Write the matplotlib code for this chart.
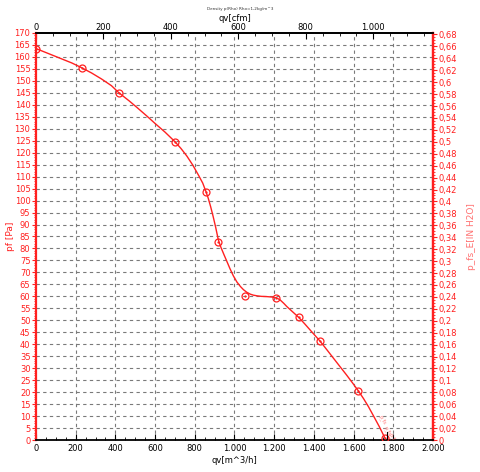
import matplotlib
matplotlib.use("Agg")
import matplotlib.pyplot as plt
from matplotlib.ticker import MultipleLocator, FuncFormatter, FixedLocator

# ---- data ----
marker_flow = [0, 230, 418, 700, 855, 918, 1053, 1211, 1325, 1431, 1624, 1758]
marker_pressure = [163.5, 155.5, 145.0, 124.6, 103.7, 82.8, 60.2, 59.4, 51.5, 41.4, 20.5, 0.8]

curve_flow = [0, 60, 120, 180, 230, 280, 330, 380, 418, 470, 510, 560, 600, 650, 700,
              730, 760, 790, 820, 840, 855, 868, 880, 892, 905, 918, 930, 945, 960, 977,
              994, 1012, 1030, 1045, 1062, 1080, 1095, 1115, 1135, 1162, 1190, 1211, 1230,
              1248, 1263, 1280, 1300, 1325, 1355, 1390, 1431, 1470, 1500, 1532, 1565, 1595,
              1624, 1650, 1675, 1700, 1730, 1758]
curve_pressure = [163.5, 161.5, 159.5, 157.5, 155.5, 153.3, 150.8, 148.0, 145.0, 141.6, 138.8,
                  135.2, 132.2, 128.6, 124.6, 121.8, 118.6, 114.8, 110.4, 107.3, 104.0, 100.9,
                  97.4, 93.5, 88.9, 83.8, 80.8, 77.8, 74.9, 71.6, 68.6, 66.0, 64.1, 62.8, 61.7,
                  60.9, 60.5, 60.2, 60.0, 59.9, 59.7, 59.4, 58.5, 57.1, 55.8, 54.5, 53.0, 51.1,
                  48.4, 45.1, 41.3, 37.2, 34.0, 30.6, 27.1, 23.8, 20.5, 17.3, 13.9, 10.1, 5.5,
                  0.8]

bottom_ticks = [0, 200, 400, 600, 800, 1000, 1200, 1400, 1600, 1800, 2000]
top_ticks_cfm = [0, 200, 400, 600, 800, 1000]
left_ticks = list(range(0, 171, 5))
right_ticks = [round(0.02 * i, 2) for i in range(35)]

M3H_PER_CFM = 1.699
PA_PER_INH2O = 249.089

RED = "#ff2020"
PINK = "#ff7070"
GRIDC = "#7a7a7a"

fig = plt.figure(figsize=(4.81, 4.72), dpi=100)
ax = fig.add_axes([36 / 481, 32 / 472, 397 / 481, 407 / 472])

ax.set_xlim(0, 2000)
ax.set_ylim(0, 170)

# grid
for x in bottom_ticks[1:-1]:
    ax.axvline(x, color=GRIDC, lw=0.8, ls=(0, (3, 3)), zorder=1)
for y in left_ticks[1:-1]:
    ax.axhline(y, color=GRIDC, lw=0.8, ls=(0, (3, 3)), zorder=1)

ax.plot(curve_flow, curve_pressure, color=RED, lw=1.0, zorder=3)
ax.plot(marker_flow, marker_pressure, ls="none", marker="o", ms=5.0, mfc="none",
        mec=RED, mew=0.9, zorder=4)
ax.plot(marker_flow, marker_pressure, ls="none", marker="o", ms=1.6, mfc=RED,
        mec=RED, mew=0, zorder=4)

# small end-point labels near the operating point
ax.text(1745, 8.5, "p_fs", color=PINK, fontsize=3.5, rotation=-60, ha="center", va="center")
ax.text(1772, 4.0, "p_fs", color=PINK, fontsize=3.5, rotation=-60, ha="center", va="center")
ax.text(1792, 1.5, "p_f", color=PINK, fontsize=3.5, rotation=-60, ha="center", va="center")
ax.plot([1770, 1770], [0.3, 3.5], color="black", lw=0.8, zorder=5)

def thousands(v, pos=None):
    s = f"{int(round(v)):,}"
    return s.replace(",", ".")

def comma(v, pos=None):
    s = f"{v:.2f}".rstrip("0").rstrip(".")
    return s.replace(".", ",")

# bottom axis
ax.xaxis.set_major_locator(FixedLocator(bottom_ticks))
ax.xaxis.set_minor_locator(MultipleLocator(50))
ax.xaxis.set_major_formatter(FuncFormatter(thousands))
ax.tick_params(axis="x", which="major", direction="in", length=4, width=0.8,
               labelsize=6, pad=3, colors="black", top=False)
ax.tick_params(axis="x", which="minor", direction="in", length=2.5, width=0.6, top=False)
ax.set_xlabel("qv[m^3/h]", fontsize=6, labelpad=2)

# left axis
ax.yaxis.set_major_locator(FixedLocator(left_ticks))
ax.yaxis.set_minor_locator(MultipleLocator(1))
ax.tick_params(axis="y", which="major", direction="out", length=3, width=0.8,
               labelsize=6, pad=1, colors=RED, labelcolor=RED)
ax.tick_params(axis="y", which="minor", direction="out", length=1.5, width=0.6, colors=RED)
ax.set_ylabel("pf [Pa]", fontsize=6.5, color=RED, labelpad=0)

for side in ("top", "bottom"):
    ax.spines[side].set_color("black")
    ax.spines[side].set_linewidth(1.3)
for side in ("left", "right"):
    ax.spines[side].set_color(RED)
    ax.spines[side].set_linewidth(1.6)

# top axis (cfm)
top = ax.secondary_xaxis("top", functions=(lambda q: q / M3H_PER_CFM,
                                           lambda c: c * M3H_PER_CFM))
top.xaxis.set_major_locator(FixedLocator(top_ticks_cfm))
top.xaxis.set_minor_locator(MultipleLocator(50))
top.xaxis.set_major_formatter(FuncFormatter(thousands))
top.tick_params(axis="x", which="major", direction="in", length=4, width=0.8,
                labelsize=6, pad=1)
top.tick_params(axis="x", which="minor", direction="in", length=2.5, width=0.6)
top.spines["top"].set_color("black")
top.spines["top"].set_linewidth(1.3)
top.set_xlabel("qv[cfm]", fontsize=6, labelpad=1)

# right axis (inch H2O)
right = ax.secondary_yaxis("right", functions=(lambda p: p / PA_PER_INH2O,
                                               lambda h: h * PA_PER_INH2O))
right.yaxis.set_major_locator(FixedLocator(right_ticks))
right.yaxis.set_minor_locator(MultipleLocator(0.005))
right.yaxis.set_major_formatter(FuncFormatter(comma))
right.tick_params(axis="y", which="major", direction="out", length=3, width=0.8,
                  labelsize=6, pad=1, colors=RED, labelcolor=RED)
right.tick_params(axis="y", which="minor", direction="out", length=1.5, width=0.6, colors=RED)
right.spines["right"].set_color(RED)
right.spines["right"].set_linewidth(1.6)
right.set_ylabel("p_fs_E[IN H2O]", fontsize=6.5, color=PINK, labelpad=7)

fig.text(0.5, 0.985, "Density p(Rho) Rho=1,2kg/m^3", fontsize=3, ha="center", va="top",
         color="#333333")

fig.savefig("out.png", dpi=100)
